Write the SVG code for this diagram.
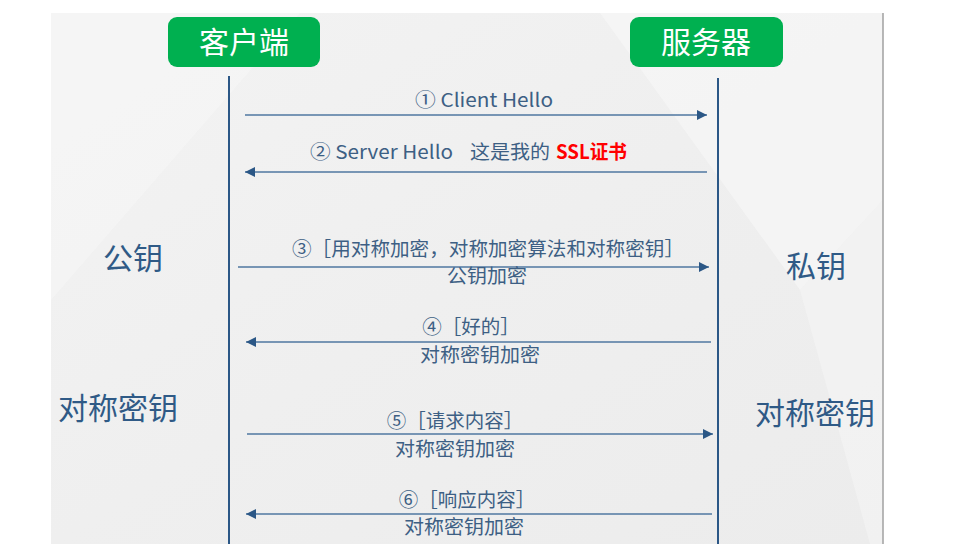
<svg xmlns="http://www.w3.org/2000/svg" width="955" height="549" viewBox="0 0 955 549">
<defs>
<linearGradient id="bg" x1="0" y1="0" x2="1" y2="1">
<stop offset="0" stop-color="#f3f3f3"/>
<stop offset="0.5" stop-color="#efefef"/>
<stop offset="1" stop-color="#ececec"/>
</linearGradient>
<marker id="ah" viewBox="0 0 10 10" refX="10" refY="5" markerWidth="10" markerHeight="10" markerUnits="userSpaceOnUse" orient="auto">
<path d="M0,0 L10,5 L0,10 z" fill="#2b5786"/>
</marker>
<style>
.box{fill:#00b050;}
.boxt{font-family:"Noto Sans CJK SC","Noto Sans",sans-serif;font-size:30px;fill:#ffffff;text-anchor:middle;}
.life{stroke:#2b5786;stroke-width:2;fill:none;}
.msg{stroke:#4f77a1;stroke-width:1.5;fill:none;marker-end:url(#ah);}
.lab{font-family:"Noto Sans CJK SC","Noto Sans",sans-serif;font-size:19.5px;fill:#3d5f84;text-anchor:middle;}
.side{font-family:"Noto Sans CJK SC","Noto Sans",sans-serif;font-size:30px;fill:#2f5a86;text-anchor:middle;}
.red{fill:#ff0000;font-weight:bold;}
</style>
</defs>
<rect x="0" y="0" width="955" height="549" fill="#ffffff"/>
<rect x="51" y="13" width="832" height="531" fill="url(#bg)"/>
<polygon points="51,13 300,13 51,300" fill="#f6f6f6" opacity="0.6"/>
<polygon points="600,13 883,13 883,200 800,290" fill="#f7f7f7" opacity="0.7"/>
<polygon points="800,290 883,200 883,544 870,544" fill="#f5f5f5" opacity="0.6"/>
<line x1="883" y1="13" x2="883" y2="544" stroke="#a0a0a0" stroke-width="1.5"/>

<g id="client">
<rect class="box" x="168" y="17" width="152" height="50" rx="9"/>
<text class="boxt" x="244" y="53">客户端</text>
</g>
<g id="server">
<rect class="box" x="630" y="17" width="153" height="50" rx="9"/>
<text class="boxt" x="706" y="53">服务器</text>
</g>

<g id="lifelines">
<line class="life" x1="229" y1="76" x2="229" y2="544"/>
<line class="life" x1="718" y1="78" x2="718" y2="544"/>
</g>

<g id="connectors">
<line class="msg" x1="245" y1="115" x2="707" y2="115"/>
<line class="msg" x1="707" y1="172" x2="245" y2="172"/>
<line class="msg" x1="238" y1="267" x2="709" y2="267"/>
<line class="msg" x1="711" y1="342" x2="246" y2="342"/>
<line class="msg" x1="247" y1="434" x2="713" y2="434"/>
<line class="msg" x1="712" y1="514" x2="246" y2="514"/>
</g>

<g id="labels">
<text class="lab" x="415" y="107" style="text-anchor:start;font-size:19px" textLength="138" lengthAdjust="spacingAndGlyphs">① Client Hello</text>
<text class="lab" y="159" style="text-anchor:start"><tspan x="310" style="font-size:19px" textLength="143" lengthAdjust="spacingAndGlyphs">② Server Hello</tspan><tspan x="470" textLength="80" lengthAdjust="spacingAndGlyphs">这是我的</tspan><tspan class="red" x="556" textLength="71" lengthAdjust="spacingAndGlyphs">SSL证书</tspan></text>
<text class="lab" x="488" y="256" textLength="392" lengthAdjust="spacingAndGlyphs">③［用对称加密，对称加密算法和对称密钥］</text>
<text class="lab" x="487" y="283" textLength="80" lengthAdjust="spacingAndGlyphs">公钥加密</text>
<text class="lab" x="471" y="334">④［好的］</text>
<text class="lab" x="480" y="362" textLength="120" lengthAdjust="spacingAndGlyphs">对称密钥加密</text>
<text class="lab" x="455" y="428">⑤［请求内容］</text>
<text class="lab" x="455" y="456" textLength="120" lengthAdjust="spacingAndGlyphs">对称密钥加密</text>
<text class="lab" x="467" y="507">⑥［响应内容］</text>
<text class="lab" x="464" y="534" textLength="120" lengthAdjust="spacingAndGlyphs">对称密钥加密</text>
</g>

<g id="side-labels">
<text class="side" x="133" y="269">公钥</text>
<text class="side" x="816" y="277">私钥</text>
<text class="side" x="118" y="419">对称密钥</text>
<text class="side" x="815" y="424">对称密钥</text>
</g>
</svg>
